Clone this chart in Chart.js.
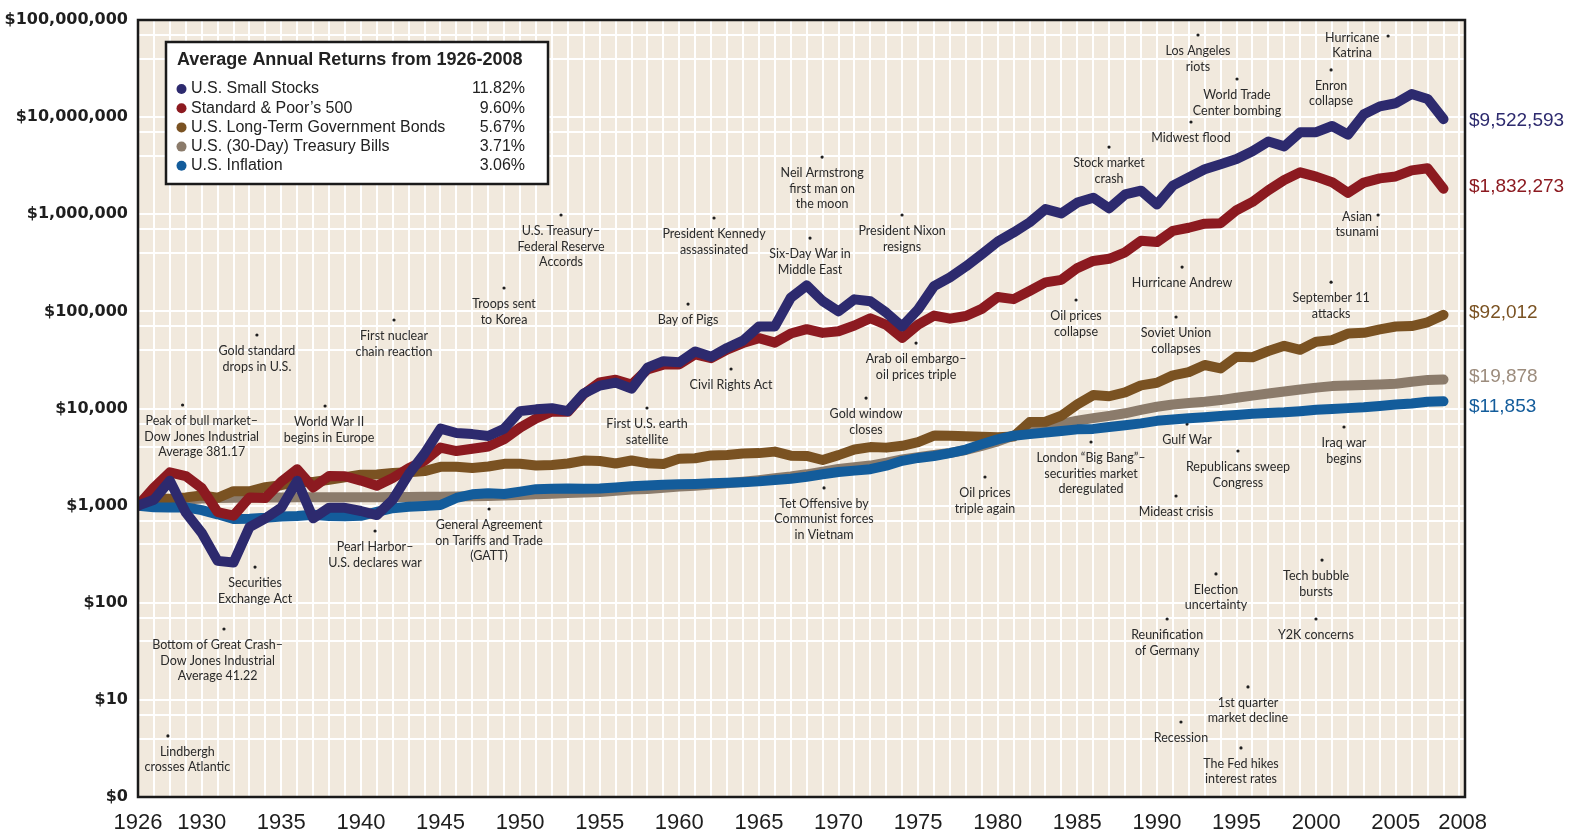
<!DOCTYPE html>
<html>
<head>
<meta charset="utf-8">
<title>Growth of $1,000, 1926-2008</title>
<script src="https://cdn.jsdelivr.net/npm/chart.js@4.4.1/dist/chart.umd.min.js"></script>
<style>
  html, body { margin: 0; padding: 0; background: #fff; }
  #wrap { width: 1574px; height: 834px; position: relative; }
</style>
</head>
<body>
<div id="wrap"><canvas id="growth"></canvas></div>
<script>
// year-end values of $1,000 invested in 1926
const years = [];
for (let y = 1926; y <= 2008; y++) years.push(y);

const smallStocks = [
  1000, 1150, 1800, 850,
  525, 270, 260, 600, 740, 950, 1800, 740, 950, 950,
  880, 800, 1150, 2100, 3450, 6200, 5600, 5450, 5200, 6200,
  9400, 9800, 10050, 9400, 14300, 17200, 18500, 16000, 26300, 30700,
  29900, 38700, 34100, 42000, 50000, 70000, 70000, 138000, 185000, 128000,
  100000, 133000, 127000, 97000, 70000, 105000, 182000, 224000, 290000, 388000,
  522000, 650000, 825000, 1130000, 1020000, 1320000, 1480000, 1150000, 1600000, 1750000,
  1260000, 1970000, 2400000, 2900000, 3270000, 3700000, 4450000, 5600000, 5000000, 7000000,
  7000000, 8100000, 6600000, 10700000, 12900000, 13900000, 17300000, 15400000, 9522593
];

const sp500 = [
  1000, 1535, 2204, 2018,
  1516, 859, 789, 1214, 1197, 1767, 2367, 1538, 2016, 2008,
  1812, 1602, 1927, 2427, 2906, 3965, 3645, 3853, 4065, 4829,
  6360, 7888, 9336, 9244, 14108, 18561, 19778, 17646, 25298, 28322,
  28455, 36106, 32954, 40469, 47139, 53008, 47674, 59104, 65642, 60059,
  62465, 71406, 84956, 72500, 53311, 73144, 90584, 84077, 89592, 106113,
  140514, 133616, 162223, 198745, 211199, 279117, 330671, 347967, 405464, 533618,
  517044, 674593, 725971, 799018, 809604, 1100000, 1340000, 1770000, 2250000, 2700000,
  2440000, 2140000, 1660000, 2120000, 2340000, 2450000, 2830000, 2980000, 1832273
];

const govBonds = [
  1000, 1174, 1175, 1215,
  1272, 1204, 1407, 1406, 1547, 1624, 1746, 1750, 1847, 1957,
  2076, 2095, 2162, 2207, 2269, 2506, 2510, 2444, 2529, 2692,
  2693, 2588, 2617, 2713, 2908, 2877, 2713, 2915, 2737, 2678,
  3047, 3077, 3287, 3326, 3448, 3473, 3599, 3266, 3249, 2950,
  3309, 3786, 4003, 3955, 4128, 4506, 5265, 5233, 5170, 5107,
  5062, 5158, 7245, 7298, 8427, 11037, 13745, 13372, 14665, 17322,
  18392, 21942, 23709, 28039, 25856, 34044, 33727, 39074, 44178, 40218,
  48560, 50576, 59130, 60175, 65284, 69900, 70614, 77244, 92012
];

const tBills = [
  1000, 1065, 1103, 1155,
  1183, 1196, 1207, 1211, 1213, 1215, 1217, 1221, 1221, 1221,
  1221, 1222, 1225, 1229, 1233, 1237, 1242, 1248, 1258, 1272,
  1287, 1306, 1328, 1352, 1364, 1385, 1419, 1464, 1486, 1530,
  1571, 1604, 1648, 1700, 1760, 1829, 1916, 1997, 2101, 2239,
  2385, 2490, 2585, 2764, 2986, 3159, 3319, 3489, 3740, 4128,
  4592, 5267, 5822, 6335, 6959, 7496, 7958, 8393, 8926, 9673,
  10429, 11012, 11398, 11745, 12211, 12906, 13567, 14262, 14973, 15680,
  16400, 17000, 17250, 17450, 17650, 18000, 18850, 19650, 19878
];

const inflation = [
  1000, 964, 955, 961,
  899, 814, 730, 734, 749, 771, 780, 804, 782, 778,
  786, 862, 942, 972, 993, 1015, 1199, 1307, 1343, 1318,
  1395, 1477, 1490, 1499, 1492, 1497, 1540, 1587, 1615, 1639,
  1663, 1674, 1695, 1723, 1743, 1777, 1836, 1892, 1984, 2102,
  2218, 2292, 2371, 2579, 2894, 3097, 3246, 3466, 3778, 4281,
  4812, 5242, 5445, 5652, 5875, 6097, 6166, 6438, 6722, 7034,
  7464, 7693, 7916, 8133, 8351, 8563, 8847, 9001, 9145, 9389,
  9707, 9857, 10091, 10281, 10615, 10982, 11262, 11721, 11853
];

const seriesNames = ["U.S. Small Stocks", "Standard & Poor\u2019s 500", "U.S. Long-Term Government Bonds", "U.S. (30-Day) Treasury Bills", "U.S. Inflation"];
const seriesReturns = ["11.82%", "9.60%", "5.67%", "3.71%", "3.06%"];
const seriesValues = [smallStocks, sp500, govBonds, tBills, inflation];
const seriesColors = ["#2d2a6e", "#8c1a20", "#7a5222", "#8b7b6b", "#135c9b"];
const endLabelColors = ["#2d2a6e", "#8c1a20", "#7a5222", "#9c8c7d", "#135c9b"];
const seriesOrder = [0, 1, 3, 4, 2];   // lower = drawn on top

const xTickYears = [1926, 1930, 1935, 1940, 1945, 1950, 1955, 1960, 1965, 1970, 1975, 1980, 1985, 1990, 1995, 2000, 2005, 2008];
const yTickLabels = ["$0", "$10", "$100", "$1,000", "$10,000", "$100,000", "$1,000,000", "$10,000,000", "$100,000,000"];

// events: year, dollar level of the dot, text lines
const events = [
  { year: 1928.8, value: 10870, text: ["Peak of bull market\u2013", "Dow Jones Industrial", "Average 381.17"], textYear: 1930.0 },
  { year: 1937.75, value: 10610, text: ["World War II", "begins in Europe"], textYear: 1938.0 },
  { year: 1933.47, value: 57100, text: ["Gold standard", "drops in U.S."] },
  { year: 1942.08, value: 81500, text: ["First nuclear", "chain reaction"] },
  { year: 1933.35, value: 233, text: ["Securities", "Exchange Act"] },
  { year: 1931.4, value: 53.7, text: ["Bottom of Great Crash\u2013", "Dow Jones Industrial", "Average 41.22"], textYear: 1931.0 },
  { year: 1927.88, value: 4.25, text: ["Lindbergh", "crosses Atlantic"], textYear: 1929.1 },
  { year: 1940.89, value: 548, text: ["Pearl Harbor\u2013", "U.S. declares war"] },
  { year: 1948.05, value: 923, text: ["General Agreement", "on Tariffs and Trade", "(GATT)"] },
  { year: 1948.99, value: 174000, text: ["Troops sent", "to Korea"] },
  { year: 1952.57, value: 982000, text: ["U.S. Treasury\u2013", "Federal Reserve", "Accords"] },
  { year: 1957.97, value: 10120, text: ["First U.S. earth", "satellite"] },
  { year: 1962.18, value: 915000, text: ["President Kennedy", "assassinated"] },
  { year: 1960.55, value: 119000, text: ["Bay of Pigs"] },
  { year: 1963.25, value: 25500, text: ["Civil Rights Act"] },
  { year: 1968.97, value: 3880000, text: ["Neil Armstrong", "first man on", "the moon"] },
  { year: 1968.21, value: 569000, text: ["Six-Day War in", "Middle East"] },
  { year: 1973.99, value: 982000, text: ["President Nixon", "resigns"] },
  { year: 1974.87, value: 47200, text: ["Arab oil embargo\u2013", "oil prices triple"] },
  { year: 1971.73, value: 12800, text: ["Gold window", "closes"] },
  { year: 1969.09, value: 1520, text: ["Tet Offensive by", "Communist forces", "in Vietnam"] },
  { year: 1979.2, value: 1970, text: ["Oil prices", "triple again"] },
  { year: 1986.99, value: 4920000, text: ["Stock market", "crash"] },
  { year: 1984.92, value: 131000, text: ["Oil prices", "collapse"] },
  { year: 1985.86, value: 4520, text: ["London \u201cBig Bang\u201d\u2013", "securities market", "deregulated"] },
  { year: 1991.58, value: 286000, text: ["Hurricane Andrew"] },
  { year: 1991.2, value: 87500, text: ["Soviet Union", "collapses"] },
  { year: 1991.89, value: 6920, text: ["Gulf War"] },
  { year: 1991.2, value: 1256, text: ["Mideast crisis"] },
  { year: 1995.09, value: 3650, text: ["Republicans sweep", "Congress"] },
  { year: 1992.14, value: 8910000, text: ["Midwest flood"] },
  { year: 1995.03, value: 24700000, text: ["World Trade", "Center bombing"] },
  { year: 1992.58, value: 70100000, text: ["Los Angeles", "riots"] },
  { year: 2004.52, value: 68400000, text: ["Hurricane", "Katrina"], textYear: 2002.26, beside: true },
  { year: 2000.94, value: 30600000, text: ["Enron", "collapse"] },
  { year: 2003.89, value: 982000, text: ["Asian", "tsunami"], textYear: 2002.57, beside: true },
  { year: 2000.94, value: 200000, text: ["September 11", "attacks"] },
  { year: 2001.75, value: 6450, text: ["Iraq war", "begins"] },
  { year: 2000.37, value: 275, text: ["Tech bubble", "bursts"], textYear: 2000.0 },
  { year: 1999.99, value: 68, text: ["Y2K concerns"] },
  { year: 1993.71, value: 198, text: ["Election", "uncertainty"] },
  { year: 1990.64, value: 68, text: ["Reunification", "of Germany"] },
  { year: 1995.72, value: 13.6, text: ["1st quarter", "market decline"] },
  { year: 1991.51, value: 5.92, text: ["Recession"] },
  { year: 1995.28, value: 3.2, text: ["The Fed hikes", "interest rates"] }
];

// beige graph-paper background
const plotBackground = {
  id: "plotBackground",
  beforeDraw(chart) {
    const { ctx, chartArea: a } = chart;
    ctx.save();
    ctx.fillStyle = "#f1e9dd";
    ctx.fillRect(a.left, a.top, a.right - a.left, a.bottom - a.top);
    ctx.restore();
  }
};

// event notes under the lines
const eventNotes = {
  id: "eventNotes",
  beforeDatasetsDraw(chart) {
    const { ctx, scales: { x, y } } = chart;
    ctx.save();
    ctx.font = "12.5px Lato";
    ctx.textAlign = "center";
    ctx.textBaseline = "middle";
    events.forEach(ev => {
      const px = x.getPixelForValue(ev.year);
      const py = y.getPixelForValue(ev.value);
      ctx.fillStyle = "#1e1e1e";
      ctx.beginPath();
      ctx.arc(px, py, 1.6, 0, Math.PI * 2);
      ctx.fill();
      const tx = ev.textYear ? x.getPixelForValue(ev.textYear) : px;
      const ty = ev.beside ? py + 1.5 : py + 16;
      ctx.fillStyle = "#2a2a2a";
      ev.text.forEach((line, i) => ctx.fillText(line, tx, ty + i * 15.5));
    });
    ctx.restore();
  }
};

// black frame round the plot
const plotFrame = {
  id: "plotFrame",
  afterDatasetsDraw(chart) {
    const { ctx, chartArea: a } = chart;
    ctx.save();
    ctx.strokeStyle = "#1a1a1a";
    ctx.lineWidth = 2.5;
    ctx.strokeRect(a.left, a.top, a.right - a.left, a.bottom - a.top);
    ctx.restore();
  }
};

// the boxed key with average returns
const returnsKey = {
  id: "returnsKey",
  afterDraw(chart) {
    const { ctx, chartArea: a } = chart;
    const left = a.left + 28, top = a.top + 22;
    ctx.save();
    ctx.fillStyle = "#fff";
    ctx.fillRect(left, top, 382, 142);
    ctx.strokeStyle = "#1a1a1a";
    ctx.lineWidth = 2.5;
    ctx.strokeRect(left, top, 382, 142);
    ctx.fillStyle = "#222";
    ctx.textBaseline = "middle";
    ctx.font = "bold 18px 'Liberation Sans'";
    ctx.fillText("Average Annual Returns from 1926-2008", left + 11, top + 18);
    ctx.font = "16px 'Liberation Sans'";
    seriesNames.forEach((name, i) => {
      const ry = top + 47 + i * 19.2;
      ctx.fillStyle = seriesColors[i];
      ctx.beginPath();
      ctx.arc(left + 15.5, ry, 5, 0, Math.PI * 2);
      ctx.fill();
      ctx.fillStyle = "#222";
      ctx.textAlign = "left";
      ctx.fillText(name, left + 25, ry);
      ctx.textAlign = "right";
      ctx.fillText(seriesReturns[i], left + 359, ry);
    });
    ctx.restore();
  }
};

// final values to the right of the plot
const endLabels = {
  id: "endLabels",
  afterDraw(chart) {
    const { ctx, chartArea: a, scales: { y } } = chart;
    const nudge = [2, -2, -2, -3, 5];
    ctx.save();
    ctx.font = "19px 'Liberation Sans'";
    ctx.textAlign = "left";
    ctx.textBaseline = "middle";
    seriesValues.forEach((vals, i) => {
      const last = vals[vals.length - 1];
      ctx.fillStyle = endLabelColors[i];
      ctx.fillText("$" + last.toLocaleString("en-US"), a.right + 4, y.getPixelForValue(last) + nudge[i]);
    });
    ctx.restore();
  }
};

new Chart(document.getElementById("growth"), {
  type: "line",
  data: {
    datasets: seriesNames.map((name, i) => ({
      label: name,
      data: years.map((yr, j) => ({ x: yr, y: seriesValues[i][j] })),
      borderColor: seriesColors[i],
      backgroundColor: seriesColors[i],
      order: seriesOrder[i]
    }))
  },
  options: {
    responsive: true,
    maintainAspectRatio: false,
    animation: false,
    layout: { padding: { top: 20, right: 109, left: 0, bottom: 0 } },
    plugins: {
      legend: { display: false },
      tooltip: { enabled: false }
    },
    elements: {
      point: { radius: 0 },
      line: { borderWidth: 10, tension: 0, borderJoinStyle: "round", borderCapStyle: "round" }
    },
    scales: {
      x: {
        type: "linear",
        min: 1926,
        max: 2009.35,
        afterBuildTicks: axis => {
          const t = [];
          for (let yr = 1926; yr <= 2009; yr++) t.push({ value: yr });
          t.push({ value: 2009.2 });   // where the last year label sits
          axis.ticks = t.sort((p, q) => p.value - q.value);
        },
        afterFit: axis => { axis.height = 37; },
        grid: {
          color: c => (c.tick && Number.isInteger(c.tick.value)) ? "#ffffff" : "rgba(0,0,0,0)",
          lineWidth: 2,
          drawTicks: false
        },
        border: { display: false },
        ticks: {
          autoSkip: false,
          maxRotation: 0,
          padding: 13,
          color: "#1e1e1e",
          font: { family: "Liberation Sans", size: 22 },
          callback: value => {
            if (value === 2009.2) return "2008";
            if (value === 2008) return "";
            return xTickYears.includes(value) ? String(value) : "";
          }
        }
      },
      y: {
        type: "logarithmic",
        min: 1,
        max: 100000000,
        afterBuildTicks: axis => {
          const t = [];
          for (let e = 0; e < 8; e++) {
            for (let m = 1; m < 10; m++) t.push({ value: m * Math.pow(10, e) });
          }
          t.push({ value: 100000000 });
          axis.ticks = t;
        },
        afterFit: axis => { axis.width = 138; },
        grid: { color: "#ffffff", lineWidth: 2, drawTicks: false },
        border: { display: false },
        ticks: {
          padding: 10,
          color: "#1e1e1e",
          font: { family: "DejaVu Sans", size: 16, weight: "bold" },
          callback: value => {
            const lg = Math.log10(value);
            const e = Math.round(lg);
            return Math.abs(lg - e) < 1e-9 ? yTickLabels[e] : "";
          }
        }
      }
    }
  },
  plugins: [plotBackground, eventNotes, plotFrame, returnsKey, endLabels]
});
</script>
</body>
</html>
